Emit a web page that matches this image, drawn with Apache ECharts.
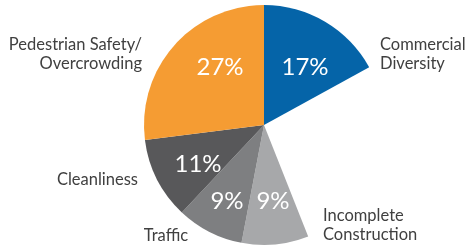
<!DOCTYPE html>
<html>
<head>
<meta charset="utf-8">
<script src="https://cdn.jsdelivr.net/npm/echarts@6/dist/echarts.min.js"></script>
<style>
  html, body { margin: 0; padding: 0; background: #fff; }
  #chart { width: 473px; height: 249px; }
</style>
</head>
<body>
<div id="chart"></div>
<script>
(function () {
  var FONT = 'Lato, "Noto Sans", sans-serif';
  var TEXT = '#404040';

  // slices clockwise from 12 o'clock; the white gap is the share not shown
  var CATEGORIES = ['Commercial\nDiversity', 'Incomplete\nConstruction', 'Traffic', 'Cleanliness', 'Pedestrian Safety/\nOvercrowding'];
  var VALUES = [17, 9, 9, 11, 27];
  var COLORS = ['#0564a8', '#a7a8aa', '#7e7f81', '#58585a', '#f59c33'];

  // where each outer label sits (x, y, align)
  var LABEL_POS = [
    [380, 54, 'left'],
    [323, 225, 'left'],
    [166, 236, 'center'],
    [138, 180, 'right'],
    [142, 54, 'right']
  ];
  // centre of each percentage inside its slice
  var INNER_POS = [
    [305, 67],
    [273, 201],
    [227, 201],
    [198, 164],
    [220, 67]
  ];

  var GAP = 100 - VALUES.reduce(function (a, b) { return a + b; }, 0);

  function buildData(inner) {
    var out = [];
    CATEGORIES.forEach(function (name, i) {
      out.push({ name: name, value: VALUES[i], itemStyle: { color: inner ? 'transparent' : COLORS[i] } });
      if (i === 0) {
        out.push({ name: 'gap', value: GAP, itemStyle: { color: 'transparent' }, label: { show: false } });
      }
    });
    return out;
  }

  function catIndex(dataIndex) {
    return dataIndex === 0 ? 0 : dataIndex - 1;
  }

  var chart = echarts.init(document.getElementById('chart'), null, { renderer: 'canvas' });

  chart.setOption({
    animation: false,
    backgroundColor: '#fff',
    textStyle: { fontFamily: FONT },
    series: [{
      type: 'pie',
      center: [264, 125],
      radius: [0, 120],
      startAngle: 90,
      clockwise: true,
      silent: true,
      avoidLabelOverlap: false,
      label: {
        show: true,
        position: 'outside',
        color: TEXT,
        fontFamily: FONT,
        fontSize: 16.5,
        lineHeight: 19,
        formatter: '{b}'
      },
      labelLine: { show: false },
      labelLayout: function (p) {
        var pos = LABEL_POS[catIndex(p.dataIndex)];
        return { x: pos[0], y: pos[1], align: pos[2], verticalAlign: 'middle' };
      },
      data: buildData(false)
    }, {
      type: 'pie',
      center: [264, 125],
      radius: [48, 100],
      startAngle: 90,
      clockwise: true,
      silent: true,
      z: 5,
      label: {
        show: true,
        position: 'inside',
        color: '#fff',
        fontFamily: FONT,
        fontSize: 24,
        formatter: '{c}%'
      },
      labelLine: { show: false },
      labelLayout: function (p) {
        var pos = INNER_POS[catIndex(p.dataIndex)];
        return { x: pos[0], y: pos[1], align: 'center', verticalAlign: 'middle' };
      },
      data: buildData(true)
    }]
  });
})();
</script>
</body>
</html>
